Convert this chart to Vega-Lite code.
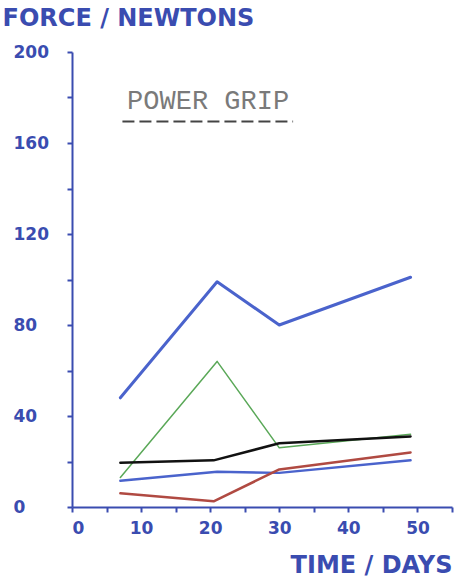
{
  "$schema": "https://vega.github.io/schema/vega-lite/v6.json",
  "autosize": "none",
  "width": 380,
  "height": 455,
  "padding": {"left": 72, "top": 52, "right": 5, "bottom": 78},
  "background": "white",
  "config": {
    "view": {"stroke": null},
    "axis": {
      "grid": false,
      "domainColor": "#3a4cb0",
      "domainWidth": 2,
      "tickColor": "#3a4cb0",
      "tickWidth": 2,
      "labelColor": "#3a4cb0",
      "labelFont": "DejaVu Sans",
      "labelFontWeight": "bold",
      "labelFontSize": 17,
      "titleColor": "#3a4cb0",
      "titleFont": "DejaVu Sans",
      "titleFontWeight": "bold",
      "titleFontSize": 24
    }
  },
  "datasets": {
    "series": [
      {"day": 7, "force": 48, "series": "A"},
      {"day": 21, "force": 99, "series": "A"},
      {"day": 30, "force": 80, "series": "A"},
      {"day": 49, "force": 101, "series": "A"},
      {"day": 7, "force": 13, "series": "B"},
      {"day": 21, "force": 64, "series": "B"},
      {"day": 30, "force": 26, "series": "B"},
      {"day": 49, "force": 32, "series": "B"},
      {"day": 7, "force": 19.5, "series": "C"},
      {"day": 20.5, "force": 20.5, "series": "C"},
      {"day": 30, "force": 28, "series": "C"},
      {"day": 49, "force": 31, "series": "C"},
      {"day": 7, "force": 11.5, "series": "D"},
      {"day": 21, "force": 15.5, "series": "D"},
      {"day": 30, "force": 15, "series": "D"},
      {"day": 49, "force": 20.5, "series": "D"},
      {"day": 7, "force": 6, "series": "E"},
      {"day": 20.5, "force": 2.5, "series": "E"},
      {"day": 30, "force": 16.5, "series": "E"},
      {"day": 49, "force": 24, "series": "E"}
    ],
    "label": [
      {"day": 19.7, "force": 175, "day2": 7.3, "day3": 32, "force2": 169.5, "text": "POWER GRIP"}
    ]
  },
  "encoding": {
    "x": {
      "field": "day", "type": "quantitative",
      "scale": {"domain": [0, 55], "nice": false, "zero": true},
      "axis": {
        "values": [0, 5, 10, 15, 20, 25, 30, 35, 40, 45, 50, 55],
        "labelExpr": "datum.value % 10 == 0 ? datum.label : ''",
        "tickSize": 5,
        "labelPadding": 8,
        "labelDx": -4,
        "title": "TIME / DAYS",
        "titleX": 380,
        "titleY": 58,
        "titleAlign": "right",
        "titleBaseline": "middle"
      }
    },
    "y": {
      "field": "force", "type": "quantitative",
      "scale": {"domain": [0, 200], "nice": false},
      "axis": {
        "values": [0, 20, 40, 60, 80, 100, 120, 140, 160, 180, 200],
        "labelExpr": "datum.value % 40 == 0 ? datum.label : ''",
        "tickSize": 5,
        "labelAlign": "left",
        "labelPadding": 54,
        "title": "FORCE / NEWTONS",
        "titleAngle": 0,
        "titleX": -70,
        "titleY": -34,
        "titleAlign": "left",
        "titleBaseline": "middle"
      }
    }
  },
  "layer": [
    {
      "data": {"name": "series"},
      "transform": [{"filter": "datum.series == 'A'"}],
      "mark": {"type": "line", "color": "#4a63cc", "strokeWidth": 3, "strokeCap": "round", "strokeJoin": "round"}
    },
    {
      "data": {"name": "series"},
      "transform": [{"filter": "datum.series == 'B'"}],
      "mark": {"type": "line", "color": "#5aa858", "strokeWidth": 1.5, "strokeCap": "round", "strokeJoin": "round"}
    },
    {
      "data": {"name": "series"},
      "transform": [{"filter": "datum.series == 'D'"}],
      "mark": {"type": "line", "color": "#4a63cc", "strokeWidth": 2.5, "strokeCap": "round", "strokeJoin": "round"}
    },
    {
      "data": {"name": "series"},
      "transform": [{"filter": "datum.series == 'E'"}],
      "mark": {"type": "line", "color": "#b04a42", "strokeWidth": 2.5, "strokeCap": "round", "strokeJoin": "round"}
    },
    {
      "data": {"name": "series"},
      "transform": [{"filter": "datum.series == 'C'"}],
      "mark": {"type": "line", "color": "#111111", "strokeWidth": 2.5, "strokeCap": "round", "strokeJoin": "round"}
    },
    {
      "data": {"name": "label"},
      "mark": {"type": "text", "font": "Liberation Mono", "fontSize": 27, "color": "#7a7a7a", "baseline": "alphabetic", "align": "center"},
      "encoding": {
        "text": {"field": "text"}
      }
    },
    {
      "data": {"name": "label"},
      "mark": {"type": "rule", "strokeDash": [12, 5], "strokeWidth": 2, "color": "#444444"},
      "encoding": {
        "x": {"field": "day2", "type": "quantitative"},
        "x2": {"field": "day3"},
        "y": {"field": "force2", "type": "quantitative"}
      }
    }
  ]
}
